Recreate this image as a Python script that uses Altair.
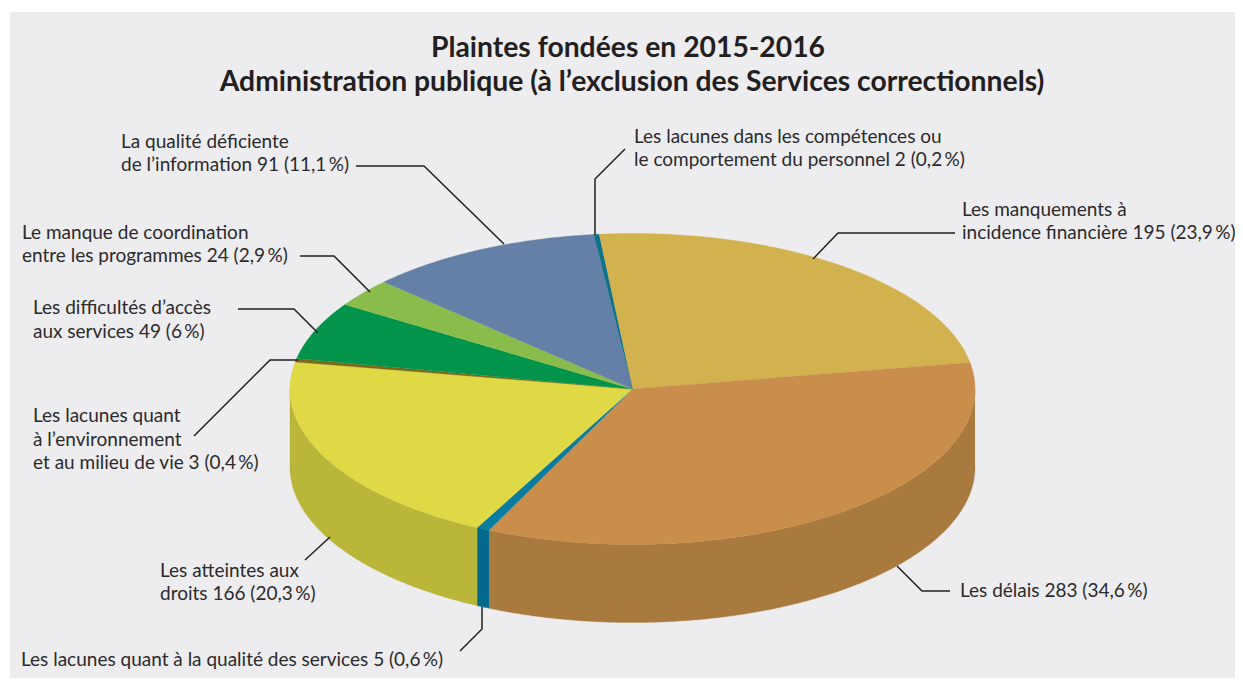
import math
import altair as alt
import pandas as pd

# ---- values
categories = ["manquements", "delais", "services", "droits", "environnement",
              "acces", "coordination", "information", "competences"]
counts = [195, 283, 5, 166, 3, 49, 24, 91, 2]
top_colors = ["#d2b24f", "#c98e4c", "#0a7ca0", "#dfd945", "#7d6a14",
              "#02944a", "#8abc4b", "#6580a6", "#0f718a"]
wall_colors = ["#a87a3d", "#a87a3d", "#03688b", "#b9b63a", "#8f8a30",
               "#02944a", "#8abc4b", "#6580a6", "#0f718a"]
title_lines = ["Plaintes fondées en 2015-2016",
               "Administration publique (à l’exclusion des Services correctionnels)"]
label_lines = ["La qualité déficiente", "de l’information 91 (11,1\u2009%)",
               "Les lacunes dans les compétences ou", "le comportement du personnel 2 (0,2\u2009%)",
               "Les manquements à", "incidence financière 195 (23,9\u2009%)",
               "Le manque de coordination", "entre les programmes 24 (2,9\u2009%)",
               "Les difficultés d’accès", "aux services 49 (6\u2009%)",
               "Les lacunes quant", "à l’environnement", "et au milieu de vie 3 (0,4\u2009%)",
               "Les atteintes aux", "droits 166 (20,3\u2009%)",
               "Les lacunes quant à la qualité des services 5 (0,6\u2009%)",
               "Les délais 283 (34,6\u2009%)"]

# ---- layout (reference pixel space)
W, H = 1235, 678
CX, CY, RX, RY, DEPTH = 632.5, 389.0, 342.5, 155.5, 78.0
START = -5.6
FONT = "Lato"
FS = 19.0
label_pos = [(121, 142), (121, 165), (634, 137), (634, 160), (962, 210), (962, 233),
             (22, 233), (22, 256), (33, 308), (33, 332), (33, 416), (33, 440), (33, 463),
             (160, 571), (160, 594), (21, 660), (960, 591)]
title_pos = [(628, 49), (632, 83)]
leaders = [[(356, 166), (424, 166), (504, 244)],
           [(625, 149), (595, 179), (595, 235)],
           [(813, 259), (838, 233), (955, 233)],
           [(300, 256), (334, 256), (370, 292)],
           [(238, 309), (294, 309), (318, 333)],
           [(194, 436), (270, 360), (298, 360)],
           [(305, 560), (330, 537)],
           [(482, 607), (482, 629), (460, 651)],
           [(897, 566), (922, 591), (950, 591)]]


def pt(a, dz=0.0):
    r = math.radians(a)
    return CX + RX * math.sin(r), CY - RY * math.cos(r) + dz


def arc(a1, a2):
    n = max(2, int(abs(a2 - a1) / 0.5) + 1)
    return [a1 + (a2 - a1) * i / (n - 1) for i in range(n)]


total = sum(counts)
tops, walls = [], []
a = START
for cat, c in zip(categories, counts):
    b = a + c / total * 360
    poly = [(CX, CY)] + [pt(t) for t in arc(a, b)]
    tops += [dict(k=cat, i=i, x=p[0], y=p[1]) for i, p in enumerate(poly)]
    lo, hi = max(a, 90), min(b, 270)
    if hi > lo:
        ts = arc(lo, hi)
        poly = [pt(t) for t in ts] + [pt(t, DEPTH) for t in reversed(ts)]
        walls += [dict(k=cat, i=i, x=p[0], y=p[1]) for i, p in enumerate(poly)]
    a = b

X = lambda f="x": alt.X(f, type="quantitative", axis=None,
                        scale=alt.Scale(domain=[8, W], range=[0, W - 8], nice=False, zero=False))
Y = lambda f="y": alt.Y(f, type="quantitative", axis=None,
                        scale=alt.Scale(domain=[8, H], range=[0, H - 8], nice=False, zero=False))

panel = alt.Chart(pd.DataFrame([dict(x=10, x2=W, y=12, y2=H)])).mark_rect(color="#edecef").encode(
    x=X(), x2="x2", y=Y(), y2="y2")


def polys(rows, colors):
    scale = alt.Scale(domain=categories, range=colors)
    return alt.Chart(pd.DataFrame(rows)).mark_line(strokeWidth=0.4, interpolate="linear").encode(
        x=X(), y=Y(), order="i:Q",
        stroke=alt.Stroke("k:N", scale=scale, legend=None),
        fill=alt.Fill("k:N", scale=scale, legend=None))


lead_rows = [dict(k=str(n), i=i, x=p[0], y=p[1]) for n, l in enumerate(leaders) for i, p in enumerate(l)]
lead = alt.Chart(pd.DataFrame(lead_rows)).mark_line(color="#231f20", strokeWidth=1.5).encode(
    x=X(), y=Y(), order="i:Q", detail="k:N")

labels = alt.Chart(pd.DataFrame([dict(t=t, x=p[0], y=p[1]) for t, p in zip(label_lines, label_pos)])).mark_text(
    align="left", baseline="middle", font=FONT, fontSize=FS, color="#2b2a2c").encode(x=X(), y=Y(), text="t:N")

titles = alt.Chart(pd.DataFrame([dict(t=t, x=p[0], y=p[1]) for t, p in zip(title_lines, title_pos)])).mark_text(
    align="center", baseline="middle", font=FONT, fontSize=28.3, fontWeight="bold", color="#231f20").encode(
    x=X(), y=Y(), text="t:N")

chart = alt.layer(panel, polys(walls, wall_colors), polys(tops, top_colors), lead, labels, titles).resolve_scale(
    stroke="independent", fill="independent"
).properties(width=W - 8, height=H - 8, padding=0, autosize="none",
             background="#ffffff").configure_view(stroke=None)
chart.save("out.html", embed_options={"renderer": "svg", "actions": False})
